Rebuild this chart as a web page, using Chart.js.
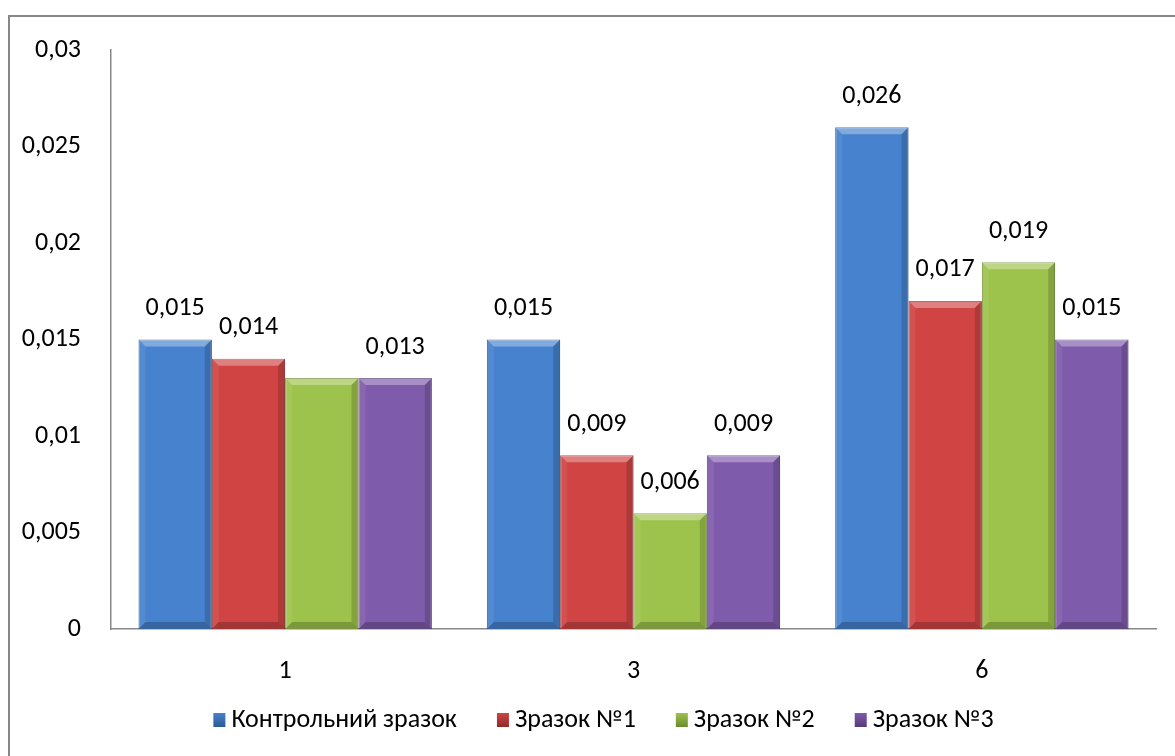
<!DOCTYPE html>
<html>
<head>
<meta charset="utf-8">
<script src="https://cdn.jsdelivr.net/npm/chart.js@4"></script>
<style>
  html, body { margin: 0; padding: 0; background: #fff; }
  #wrap { position: relative; width: 1175px; height: 756px; overflow: hidden; }
  #frame { position: absolute; left: 8px; top: 15px; width: 1300px; height: 900px;
           border-left: 2px solid #878787; border-top: 2px solid #878787; }
  canvas { position: absolute; left: 0; top: 0; }
</style>
</head>
<body>
<div id="wrap">
  <div id="frame"></div>
  <canvas id="chart" width="1175" height="756"></canvas>
</div>
<script>
// data
const categories = ['1', '3', '6'];
const seriesNames = ['Контрольний зразок', 'Зразок №1', 'Зразок №2', 'Зразок №3'];
const control = [0.015, 0.015, 0.026];
const sample1 = [0.014, 0.009, 0.017];
const sample2 = [0.013, 0.006, 0.019];
const sample3 = [0.013, 0.009, 0.015];
// value labels as shown (one hidden in the original)
const valueLabels = [
  ['0,015', '0,015', '0,026'],
  ['0,014', '0,009', '0,017'],
  ['', '0,006', '0,019'],
  ['0,013', '0,009', '0,015']
];
const yTickLabels = ['0', '0,005', '0,01', '0,015', '0,02', '0,025', '0,03'];

const fills = ['#4682cd', '#d04444', '#9ec34c', '#7f5cab'];
const edges = ['#2c5a94', '#8e2a2a', '#6d8a30', '#56397a'];
const FONT = "Carlito, Calibri, 'Open Sans', sans-serif";

Chart.defaults.font.family = FONT;
Chart.defaults.font.size = 26;
Chart.defaults.color = '#000';

function poly(ctx, pts, color) {
  ctx.beginPath();
  ctx.moveTo(pts[0][0], pts[0][1]);
  for (let k = 1; k < pts.length; k++) ctx.lineTo(pts[k][0], pts[k][1]);
  ctx.closePath();
  ctx.fillStyle = color;
  ctx.fill();
}

// bevel look + value labels
const bevelLabels = {
  id: 'bevelLabels',
  afterDatasetsDraw(chart) {
    const ctx = chart.ctx;
    ctx.save();
    chart.data.datasets.forEach((ds, i) => {
      chart.getDatasetMeta(i).data.forEach((bar, j) => {
        const { x, y, base, width } = bar.getProps(['x', 'y', 'base', 'width'], true);
        const l = x - width / 2, r = x + width / 2, d = 7;
        poly(ctx, [[l, y], [r, y], [r - d, y + d], [l + d, y + d]], 'rgba(255,255,255,0.32)');
        poly(ctx, [[l, y], [l + d, y + d], [l + d, base - d], [l, base]], 'rgba(255,255,255,0.07)');
        poly(ctx, [[r, y], [r - d, y + d], [r - d, base - d], [r, base]], 'rgba(0,0,0,0.16)');
        poly(ctx, [[l, base], [l + d, base - d], [r - d, base - d], [r, base]], 'rgba(0,0,0,0.22)');
        const t = valueLabels[i][j];
        if (t) {
          ctx.fillStyle = '#000';
          ctx.font = '26px ' + FONT;
          ctx.textAlign = 'center';
          ctx.textBaseline = 'middle';
          ctx.fillText(t, x, y - 31);
        }
      });
    });
    ctx.restore();
  }
};

// legend drawn below the axis, Excel style spacing
const bottomLegend = {
  id: 'bottomLegend',
  afterDraw(chart) {
    const ctx = chart.ctx;
    ctx.save();
    ctx.font = '26px ' + FONT;
    const box = 12, gap = 6, itemGap = 40;
    const widths = seriesNames.map(n => box + gap + ctx.measureText(n).width);
    const total = widths.reduce((a, b) => a + b, 0) + itemGap * (widths.length - 1);
    let x = chart.width / 2 + 16 - total / 2;
    const cy = 720;
    seriesNames.forEach((n, i) => {
      const g = ctx.createLinearGradient(0, cy - 7, 0, cy + 7);
      g.addColorStop(0, fills[i]);
      g.addColorStop(1, edges[i]);
      ctx.fillStyle = g;
      ctx.fillRect(x, cy - 7, box, 14);
      ctx.fillStyle = '#000';
      ctx.textAlign = 'left';
      ctx.textBaseline = 'middle';
      ctx.fillText(n, x + box + gap, cy);
      x += widths[i] + itemGap;
    });
    ctx.restore();
  }
};

const ctx = document.getElementById('chart').getContext('2d');
const seriesData = [control, sample1, sample2, sample3];
const chart = new Chart(ctx, {
  type: 'bar',
  data: {
    labels: categories,
    datasets: seriesData.map((d, i) => ({
      label: seriesNames[i],
      data: d,
      backgroundColor: fills[i],
      borderColor: edges[i],
      borderWidth: 1,
      barPercentage: 1,
      categoryPercentage: 0.842
    }))
  },
  options: {
    responsive: false,
    animation: false,
    devicePixelRatio: 1,
    layout: { padding: { top: 50, right: 19, left: 0, bottom: 57 } },
    plugins: {
      tooltip: { enabled: false },
      legend: { display: false }
    },
    scales: {
      x: {
        grid: { display: false },
        border: { display: true, color: '#878787', width: 1.5 },
        ticks: { padding: 19, font: { size: 26 }, color: '#000' },
        afterFit(scale) { scale.height = 70; }
      },
      y: {
        min: 0,
        max: 0.03,
        grid: { display: false },
        border: { display: true, color: '#878787', width: 1.5 },
        ticks: {
          stepSize: 0.005,
          padding: 22,
          font: { size: 26 },
          color: '#000',
          callback: (v, idx) => yTickLabels[idx]
        },
        afterFit(scale) { scale.width = 111; }
      }
    }
  },
  plugins: [bevelLabels, bottomLegend]
});
</script>
</body>
</html>
